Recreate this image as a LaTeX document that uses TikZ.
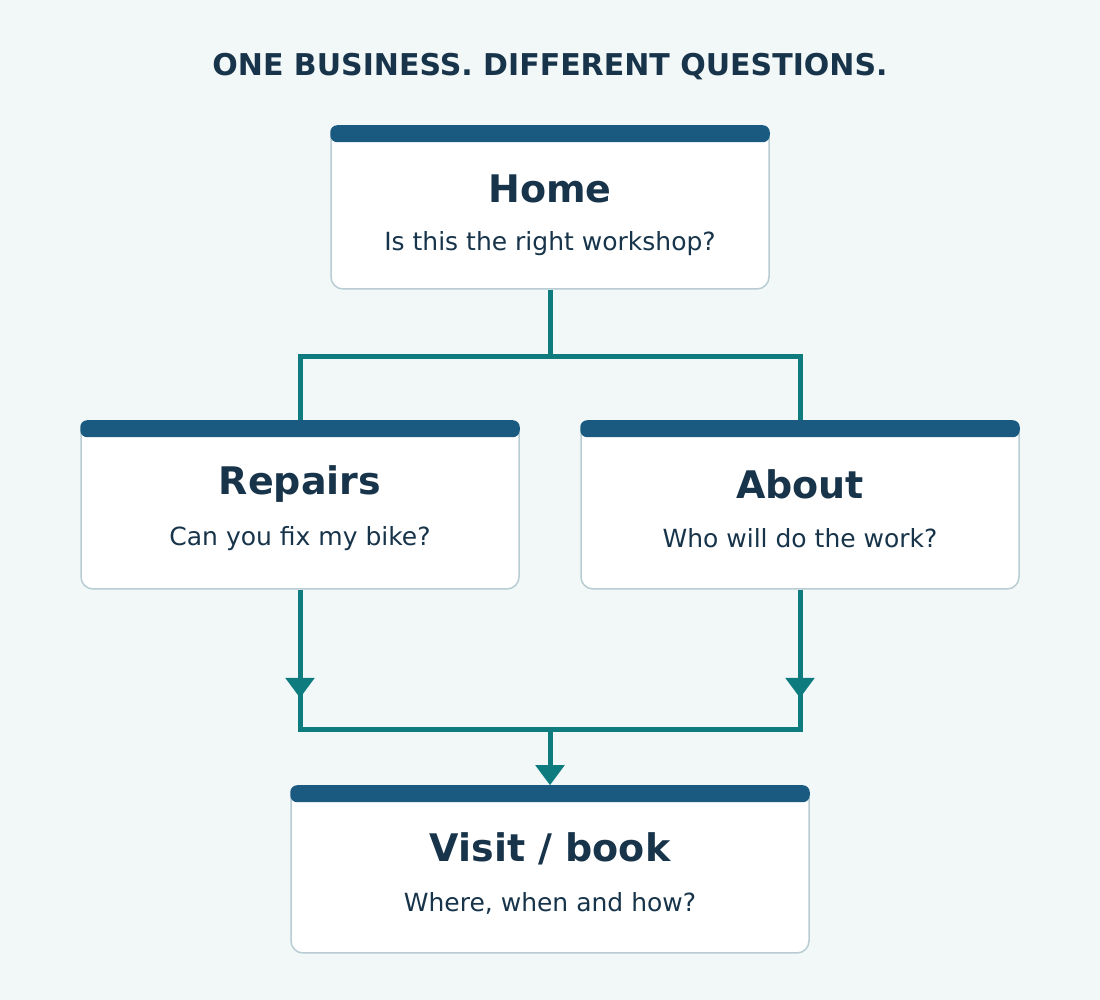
\documentclass[tikz,border=0pt]{standalone}
\usepackage{fontspec}
\setmainfont{DejaVu Sans}
\usetikzlibrary{calc,arrows.meta,positioning}
\definecolor{bgpage}{HTML}{F2F7F8}
\definecolor{barblue}{HTML}{1A5A80}
\definecolor{inkdark}{HTML}{17344A}
\definecolor{edgegrey}{HTML}{B8CDD3}
\definecolor{teal}{HTML}{0E7C7F}

\tikzset{
  page/.style={draw=edgegrey, line width=1.5pt, fill=white, rounded corners=12pt, inner sep=0pt},
  bar/.style={fill=barblue, rounded corners=7pt},
  head/.style={font=\fontsize{38}{44}\selectfont\bfseries, text=inkdark},
  ask/.style={font=\fontsize{25}{30}\selectfont, text=inkdark},
  flow/.style={draw=teal, line width=5pt},
  tip/.style={flow, -{Triangle[width=28pt,length=20pt]}}
}

\begin{document}
\begin{tikzpicture}[x=1pt,y=1pt]

    \fill[bgpage] (0,0) rectangle (1100,1000);
    \useasboundingbox (0,0) rectangle (1100,1000);

    \node[font=\fontsize{30}{36}\selectfont\bfseries, text=inkdark] (title) at (550,933) {ONE BUSINESS. DIFFERENT QUESTIONS.};

    % boxes
    \node[page, minimum width=438pt, minimum height=163pt] (home) at (550,792.5) {};
    \node[page, minimum width=438pt, minimum height=168pt] (repairs) at (300,495) {};
    \node[page, minimum width=438pt, minimum height=168pt] (about) at (800,495) {};
    \node[page, minimum width=518pt, minimum height=167pt] (visit) at (550,130.5) {};

    \fill[bar] ([yshift=-17pt]home.north west) rectangle (home.north east);
    \fill[bar] ([yshift=-17pt]repairs.north west) rectangle (repairs.north east);
    \fill[bar] ([yshift=-17pt]about.north west) rectangle (about.north east);
    \fill[bar] ([yshift=-17pt]visit.north west) rectangle (visit.north east);

    \node[head] (homet) at ($(home.north)+(0,-64)$) {Home};
    \node[ask] (homes) at ($(home.north)+(0,-118)$) {Is this the right workshop?};
    \node[head] (repairst) at ($(repairs.north)+(0,-64)$) {Repairs};
    \node[ask] (repairss) at ($(repairs.north)+(0,-118)$) {Can you fix my bike?};
    \node[head] (aboutt) at ($(about.north)+(0,-64)$) {About};
    \node[ask] (abouts) at ($(about.north)+(0,-118)$) {Who will do the work?};
    \node[head] (visitt) at ($(visit.north)+(0,-64)$) {Visit / book};
    \node[ask] (visits) at ($(visit.north)+(0,-118)$) {Where, when and how?};

    % connectors
    \coordinate (hs) at (550,643);
    \coordinate (hl) at (300,643);
    \coordinate (hr) at (800,643);
    \coordinate (rl) at (300,270);
    \coordinate (vm) at (550,270);
    \coordinate (al) at (800,270);
    \coordinate (rtip) at (300,302);
    \coordinate (atip) at (800,302);

    \draw[flow] (home.south) -- (hs);
    \draw[flow, line cap=rect] (hl) -- (hr);
    \draw[flow] (hl) -- (repairs.north);
    \draw[flow] (hr) -- (about.north);

    \draw[flow] (repairs.south) -- (rl);
    \draw[tip] (repairs.south) -- (rtip);
    \draw[flow] (about.south) -- (al);
    \draw[tip] (about.south) -- (atip);
    \draw[flow, line cap=rect] (rl) -- (al);
    \draw[tip] (vm) -- (visit.north);

\end{tikzpicture}
\end{document}
